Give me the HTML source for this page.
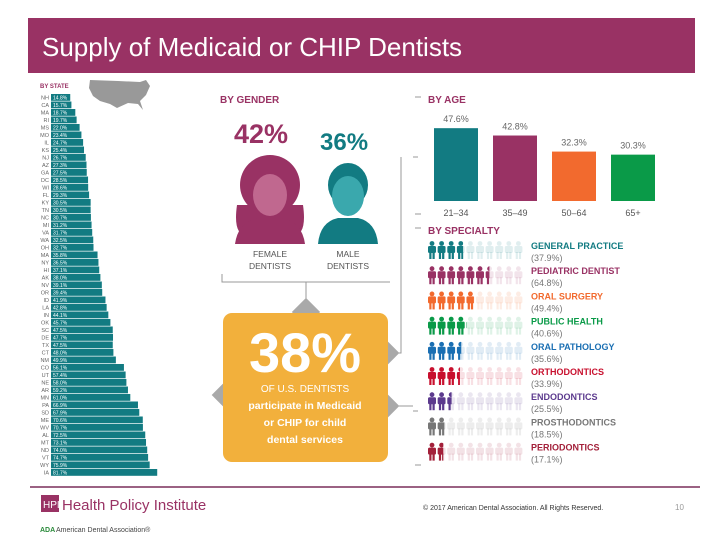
<!DOCTYPE html>
<html><head><meta charset="utf-8">
<style>
html,body{margin:0;padding:0;background:#fff;}
svg{display:block;font-family:"Liberation Sans",sans-serif;}
</style></head>
<body>
<svg id="chart" width="720" height="540" viewBox="0 0 720 540">
<rect x="28" y="18" width="667" height="55" fill="#993264"/>
<text x="42" y="56" font-size="26" fill="#fff">Supply of Medicaid or CHIP Dentists</text>

<text x="40" y="88" font-size="6" font-weight="bold" fill="#993264">BY STATE</text>
<path d="M90,80 L118,81 L140,82 L146,80 L150,86 L146,95 L140,101 L143,110 L138,104 L128,103 L117,108 L110,104 L100,101 L93,96 L89,88 Z" fill="#999"/>
<g id="states"></g>

<text x="220" y="103" font-size="10" font-weight="bold" fill="#993264">BY GENDER</text>
<text x="234" y="143" font-size="27" font-weight="bold" fill="#993264">42%</text>
<text x="320" y="150" font-size="24" font-weight="bold" fill="#127b82">36%</text>
<g>
<ellipse cx="270" cy="185" rx="30" ry="30" fill="#993264"/>
<path d="M237,205 Q232,240 252,235 L288,235 Q308,240 303,205 Z" fill="#993264"/>
<path d="M235,244 Q238,222 258,218 L282,218 Q302,222 305,244 Z" fill="#993264"/>
<ellipse cx="270" cy="195" rx="17" ry="21" fill="#c0688f"/>
</g>
<g>
<ellipse cx="348" cy="185" rx="20" ry="22" fill="#127b82"/>
<ellipse cx="348" cy="196" rx="16" ry="20" fill="#3aa8ad"/>
<path d="M318,244 Q320,222 338,218 L358,218 Q376,222 378,244 Z" fill="#127b82"/>
</g>
<text x="270" y="257" font-size="8.5" fill="#555" text-anchor="middle">FEMALE</text>
<text x="270" y="269" font-size="8.5" fill="#555" text-anchor="middle">DENTISTS</text>
<text x="348" y="257" font-size="8.5" fill="#555" text-anchor="middle">MALE</text>
<text x="348" y="269" font-size="8.5" fill="#555" text-anchor="middle">DENTISTS</text>
<path d="M222,274 V282 H390 M306,282 V300 M401,157 V353 H392 M390,406 H413" stroke="#999" fill="none" stroke-width="1"/>
<rect x="296" y="302" width="20" height="20" fill="#a9a9a9" transform="rotate(45 306 312)"/>
<rect x="215" y="387" width="16" height="16" fill="#a9a9a9" transform="rotate(45 223 395)"/>
<rect x="380" y="345" width="16" height="16" fill="#a9a9a9" transform="rotate(45 388 353)"/>
<rect x="380" y="398" width="16" height="16" fill="#a9a9a9" transform="rotate(45 388 406)"/>
<rect x="223" y="313" width="165" height="149" rx="9" fill="#f2b03c"/>
<text x="305" y="372" font-size="56" font-weight="bold" fill="#fff" text-anchor="middle">38%</text>
<text x="305" y="392" font-size="10" fill="#fff" text-anchor="middle">OF U.S. DENTISTS</text>
<text x="305" y="409" font-size="10.5" fill="#fff" text-anchor="middle" font-weight="bold">participate in Medicaid</text>
<text x="305" y="426" font-size="10.5" fill="#fff" text-anchor="middle" font-weight="bold">or CHIP for child</text>
<text x="305" y="443" font-size="10.5" fill="#fff" text-anchor="middle" font-weight="bold">dental services</text>

<text x="428" y="103" font-size="10" font-weight="bold" fill="#993264">BY AGE</text>
<path d="M415,97 H421 M413,157 H418 M415,214 H421 M415,228 H421 M413,411 H418 M415,465 H421" stroke="#999"/>
<g id="age"></g>

<text x="428" y="234" font-size="10" font-weight="bold" fill="#993264">BY SPECIALTY</text>
<g id="spec"></g>

<line x1="30" y1="487" x2="700" y2="487" stroke="#7a2e5a" stroke-width="1.5"/>
<rect x="41" y="495" width="18" height="17" fill="#993264"/>
<text x="43" y="508" font-size="10" fill="#fff">HPI</text>
<text x="62" y="510" font-size="15" fill="#993264">Health Policy Institute</text>
<text x="40" y="532" font-size="7" font-weight="bold" fill="#2a8a3a">ADA</text>
<text x="56" y="532" font-size="7" fill="#444">American Dental Association®</text>
<text x="423" y="510" font-size="7" fill="#333">© 2017 American Dental Association. All Rights Reserved.</text>
<text x="675" y="510" font-size="8" fill="#999">10</text>
</svg>
<script>
const stateNames=["NH","CA","MA","RI","MS","MO","IL","KS","NJ","AZ","GA","DC","WI","FL","KY","TN","NC","MI","VA","WA","OH","MA","NY","HI","AK","NV","OR","ID","LA","IN","OK","SC","DE","TX","CT","NM","CO","UT","NE","AR","MN","PA","SD","ME","WV","AL","MT","ND","VT","WY","IA"];
const stateValues=[14.8,15.7,18.7,19.7,22.0,23.4,24.7,25.4,26.7,27.3,27.5,28.5,28.6,29.3,30.5,30.5,30.7,31.2,31.7,32.5,32.7,35.8,36.5,37.1,38.0,39.1,39.4,41.9,42.8,44.1,45.7,47.5,47.7,47.5,48.0,49.9,56.1,57.4,58.0,59.2,61.0,66.9,67.9,70.6,70.7,72.5,73.1,74.0,74.7,75.9,81.7];
const ageCats=["21–34","35–49","50–64","65+"];
const ageValues=[47.6,42.8,32.3,30.3];
const specNames=["GENERAL PRACTICE","PEDIATRIC DENTIST","ORAL SURGERY","PUBLIC HEALTH","ORAL PATHOLOGY","ORTHODONTICS","ENDODONTICS","PROSTHODONTICS","PERIODONTICS"];
const specValues=[37.9,64.8,49.4,40.6,35.6,33.9,25.5,18.5,17.1];
const specColors=["#127b82","#993264","#f26a2e","#0a9a48","#1a6fb3","#c8102e","#5c3a8e","#777","#a3203a"];
const ageColors=["#127b82","#993264","#f26a2e","#0a9a48"];
const NS=document.getElementById('chart').namespaceURI;
function mk(t,a,p){const e=document.createElementNS(NS,t);for(const k in a)e.setAttribute(k,a[k]);p.appendChild(e);return e;}
// states
const sg=document.getElementById('states');
const sx=v=>v*1.3, sy=i=>94+i*7.5;
stateNames.forEach((n,i)=>{
 const t=mk('text',{x:49,y:sy(i)+5.5,'font-size':5.5,fill:'#666','text-anchor':'end'},sg);
 t.textContent=n;
 
 
 const r=mk('rect',{x:51,y:sy(i),width:sx(stateValues[i]),height:6.8,fill:'#127b82'},sg);
 
 
 const v=mk('text',{x:53,y:sy(i)+5.3,'font-size':5,fill:'#fff'},sg);
 v.textContent=stateValues[i].toFixed(1)+'%';
});
// age
const ag=document.getElementById('age');
const base=201, ay=v=>base-v*1.53;
ageCats.forEach((c,i)=>{
 const x=434+i*59;
 const r=mk('rect',{x:x,y:ay(ageValues[i]),width:44,height:base-ay(ageValues[i]),fill:ageColors[i]},ag);
 
 
 const v=mk('text',{x:x+22,y:ay(ageValues[i])-6,'font-size':9,fill:'#666','text-anchor':'middle'},ag);
 v.textContent=ageValues[i].toFixed(1)+'%';
 const l=mk('text',{x:x+22,y:216,'font-size':9,fill:'#555','text-anchor':'middle'},ag);
 l.textContent=c;
 
 
});
// specialty
const sp=document.getElementById('spec');
specNames.forEach((n,i)=>{
 const y=241+i*25.2, col=specColors[i], full=specValues[i]/10;
 for(let k=0;k<10;k++){
  const x=428+k*9.6, f=Math.min(Math.max(full-k,0),1);
  const person=(parent,fill,op)=>{
   mk('circle',{cx:x+4,cy:y+2.5,r:2.4,fill:fill,opacity:op},parent);
   mk('rect',{x:x,y:y+5,width:8,height:7,rx:1.5,fill:fill,opacity:op},parent);
   mk('rect',{x:x+1.3,y:y+11,width:2.2,height:7,fill:fill,opacity:op},parent);
   mk('rect',{x:x+4.5,y:y+11,width:2.2,height:7,fill:fill,opacity:op},parent);
  };
  person(sp,col,0.13);
  if(f>0){
   const cid='c'+i+'_'+k;
   const cp=mk('clipPath',{id:cid},sp);
   mk('rect',{x:x,y:y-1,width:8*f,height:21},cp);
   const g2=mk('g',{'clip-path':'url(#'+cid+')'},sp);
   
   
   person(g2,col,1);
  }
 }
 const t=mk('text',{x:531,y:y+8,'font-size':9,'font-weight':'bold',fill:col},sp);
 t.textContent=n;
 
 
 const p=mk('text',{x:531,y:y+20,'font-size':9,fill:'#777'},sp);
 p.textContent='('+specValues[i].toFixed(1)+'%)';
});
</script>
</body></html>
